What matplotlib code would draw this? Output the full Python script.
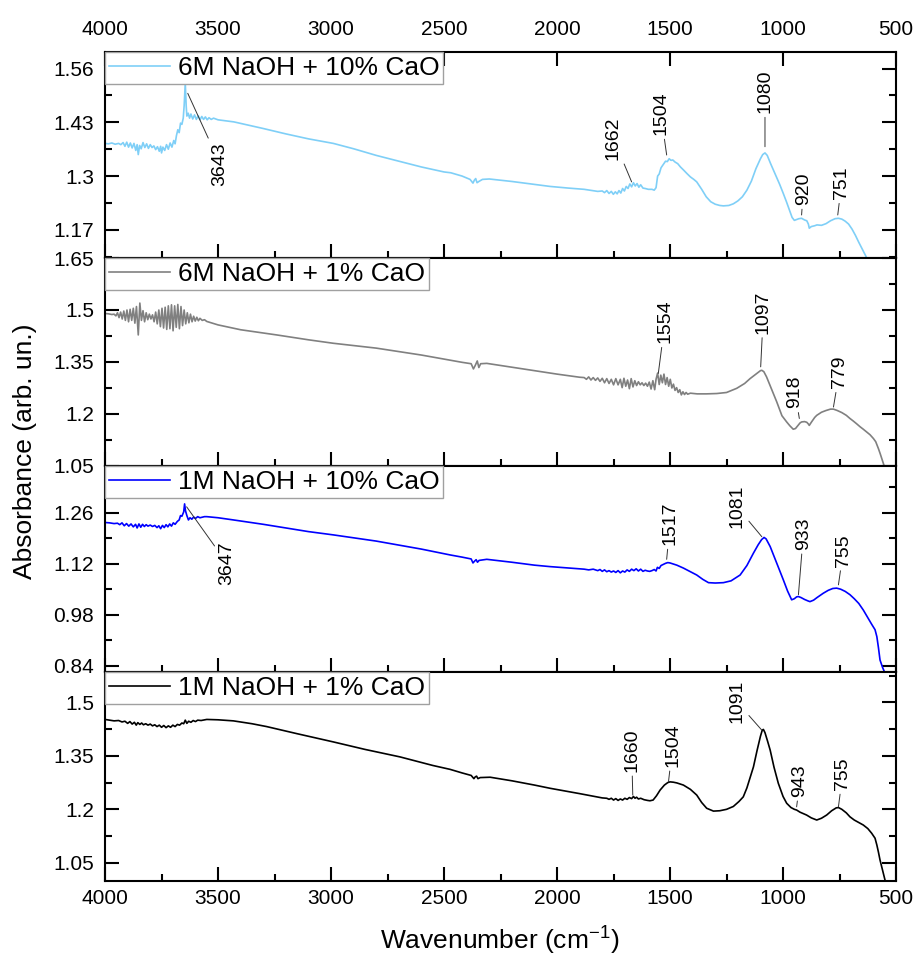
import matplotlib
matplotlib.use("Agg")
import matplotlib.pyplot as plt
from matplotlib.ticker import FixedLocator, MultipleLocator

plt.rcParams['font.family'] = ['Liberation Sans', 'DejaVu Sans']
plt.rcParams['mathtext.fontset'] = 'custom'
plt.rcParams['mathtext.rm'] = 'Liberation Sans'
plt.rcParams['mathtext.default'] = 'regular'

# 1. Data

# 6M NaOH + 10% CaO
wn_a = [4000, 3985, 3970, 3955, 3940, 3930, 3920, 3912, 3904, 3896, 3888, 3880, 3872, 3864, 3858, 3853,
        3847, 3840, 3832, 3824, 3816, 3808, 3800, 3792, 3784, 3776, 3768, 3760, 3754, 3750, 3744, 3736,
        3728, 3720, 3712, 3704, 3696, 3690, 3684, 3678, 3672, 3666, 3660, 3654, 3650, 3645, 3641, 3638,
        3632, 3626, 3620, 3612, 3604, 3596, 3588, 3580, 3572, 3564, 3556, 3548, 3540, 3530, 3520, 3500,
        3460, 3430, 3300, 3200, 3100, 2990, 2900, 2800, 2700, 2600, 2500, 2470, 2420, 2385, 2372, 2366,
        2360, 2354, 2346, 2330, 2300, 2200, 2100, 2031, 1950, 1880, 1820, 1800, 1790, 1780, 1770, 1760,
        1751, 1742, 1734, 1726, 1718, 1710, 1702, 1694, 1686, 1678, 1670, 1662, 1654, 1646, 1638, 1630,
        1620, 1610, 1596, 1580, 1570, 1562, 1555, 1548, 1540, 1530, 1520, 1512, 1504, 1496, 1488, 1478,
        1466, 1454, 1441, 1425, 1410, 1395, 1382, 1360, 1340, 1320, 1300, 1280, 1264, 1240, 1220, 1200,
        1180, 1160, 1140, 1120, 1100, 1090, 1080, 1070, 1055, 1035, 1015, 999, 985, 970, 960, 950,
        940, 930, 918, 905, 895, 888, 884, 875, 860, 850, 830, 810, 790, 770, 755, 740,
        725, 710, 695, 680, 665, 650, 635, 620]
ab_a = [1.379, 1.378, 1.380, 1.377, 1.379, 1.376, 1.381, 1.372, 1.382, 1.370, 1.380, 1.368, 1.379, 1.362, 1.376, 1.352,
        1.374, 1.366, 1.381, 1.369, 1.378, 1.367, 1.376, 1.369, 1.373, 1.364, 1.371, 1.360, 1.372, 1.356, 1.370, 1.362,
        1.376, 1.365, 1.380, 1.370, 1.386, 1.378, 1.398, 1.412, 1.405, 1.428, 1.425, 1.440, 1.470, 1.525, 1.470, 1.445,
        1.452, 1.440, 1.450, 1.438, 1.448, 1.437, 1.446, 1.436, 1.444, 1.437, 1.443, 1.436, 1.441, 1.437, 1.440, 1.436,
        1.433, 1.431, 1.415, 1.402, 1.390, 1.379, 1.366, 1.350, 1.336, 1.322, 1.310, 1.308, 1.300, 1.292, 1.283, 1.290,
        1.294, 1.284, 1.287, 1.292, 1.293, 1.287, 1.280, 1.275, 1.271, 1.268, 1.263, 1.264, 1.260, 1.265, 1.258, 1.263,
        1.256, 1.262, 1.257, 1.265, 1.259, 1.270, 1.264, 1.275, 1.270, 1.281, 1.274, 1.284, 1.276, 1.282, 1.273, 1.279,
        1.271, 1.270, 1.268, 1.268, 1.266, 1.272, 1.300, 1.305, 1.320, 1.328, 1.336, 1.335, 1.342, 1.338, 1.339, 1.334,
        1.330, 1.322, 1.315, 1.306, 1.298, 1.292, 1.286, 1.268, 1.250, 1.238, 1.232, 1.229, 1.228, 1.229, 1.233, 1.240,
        1.250, 1.266, 1.288, 1.318, 1.342, 1.352, 1.356, 1.350, 1.330, 1.305, 1.280, 1.258, 1.238, 1.215, 1.200, 1.193,
        1.195, 1.197, 1.198, 1.194, 1.192, 1.184, 1.174, 1.178, 1.180, 1.182, 1.181, 1.185, 1.192, 1.197, 1.198, 1.196,
        1.191, 1.184, 1.172, 1.157, 1.140, 1.124, 1.108, 1.090]

# 6M NaOH + 1% CaO
wn_b = [4000, 3985, 3970, 3960, 3952, 3945, 3938, 3931, 3924, 3917, 3910, 3903, 3896, 3889, 3882, 3875,
        3868, 3861, 3853, 3846, 3839, 3832, 3825, 3818, 3811, 3804, 3797, 3790, 3783, 3776, 3769, 3762,
        3755, 3748, 3741, 3734, 3727, 3720, 3713, 3706, 3699, 3692, 3685, 3678, 3671, 3664, 3657, 3650,
        3643, 3636, 3629, 3622, 3615, 3608, 3601, 3594, 3587, 3580, 3570, 3560, 3550, 3500, 3400, 3240,
        3100, 2990, 2800, 2600, 2473, 2420, 2380, 2370, 2362, 2353, 2346, 2338, 2311, 2200, 2100, 2000,
        1900, 1880, 1870, 1860, 1850, 1840, 1830, 1820, 1810, 1800, 1790, 1780, 1770, 1760, 1750, 1740,
        1730, 1720, 1712, 1704, 1696, 1688, 1680, 1672, 1664, 1656, 1648, 1640, 1632, 1624, 1616, 1608,
        1600, 1592, 1584, 1576, 1568, 1562, 1555, 1548, 1541, 1534, 1527, 1520, 1513, 1506, 1499, 1492,
        1485, 1478, 1471, 1464, 1457, 1450, 1443, 1436, 1429, 1422, 1410, 1380, 1340, 1293, 1250, 1205,
        1170, 1146, 1120, 1100, 1094, 1085, 1073, 1050, 1028, 1005, 984, 970, 955, 945, 935, 925,
        918, 905, 895, 888, 884, 875, 860, 851, 830, 810, 790, 777, 760, 740, 720, 704,
        690, 675, 659, 645, 630, 615, 600, 590, 578, 570, 560, 550]
ab_b = [1.490, 1.489, 1.487, 1.488, 1.483, 1.492, 1.478, 1.494, 1.474, 1.497, 1.470, 1.500, 1.466, 1.502, 1.470, 1.505,
        1.462, 1.510, 1.428, 1.520, 1.470, 1.498, 1.466, 1.492, 1.472, 1.488, 1.474, 1.486, 1.466, 1.494, 1.460, 1.500,
        1.452, 1.505, 1.448, 1.508, 1.444, 1.512, 1.446, 1.515, 1.440, 1.512, 1.450, 1.516, 1.446, 1.510, 1.455, 1.500,
        1.460, 1.492, 1.463, 1.488, 1.466, 1.482, 1.468, 1.479, 1.469, 1.476, 1.470, 1.472, 1.467, 1.457, 1.443, 1.428,
        1.414, 1.404, 1.390, 1.370, 1.355, 1.349, 1.345, 1.330, 1.340, 1.353, 1.334, 1.345, 1.346, 1.335, 1.325, 1.315,
        1.306, 1.305, 1.300, 1.307, 1.298, 1.305, 1.297, 1.304, 1.294, 1.303, 1.290, 1.302, 1.288, 1.300, 1.284, 1.302,
        1.284, 1.300, 1.276, 1.303, 1.280, 1.298, 1.273, 1.302, 1.278, 1.296, 1.282, 1.293, 1.284, 1.290, 1.282, 1.289,
        1.280, 1.292, 1.272, 1.296, 1.270, 1.300, 1.318, 1.285, 1.312, 1.290, 1.315, 1.285, 1.305, 1.280, 1.300, 1.275,
        1.286, 1.268, 1.276, 1.262, 1.270, 1.255, 1.264, 1.256, 1.262, 1.257, 1.260, 1.258, 1.258, 1.259, 1.262, 1.274,
        1.288, 1.302, 1.315, 1.325, 1.326, 1.322, 1.307, 1.270, 1.235, 1.195, 1.177, 1.166, 1.156, 1.158, 1.166, 1.174,
        1.177, 1.178, 1.176, 1.171, 1.167, 1.176, 1.190, 1.196, 1.205, 1.210, 1.214, 1.214, 1.210, 1.204, 1.196, 1.187,
        1.180, 1.172, 1.163, 1.156, 1.148, 1.140, 1.129, 1.120, 1.100, 1.085, 1.065, 1.045]

# 1M NaOH + 10% CaO
wn_c = [4000, 3980, 3960, 3945, 3935, 3925, 3915, 3905, 3895, 3885, 3875, 3865, 3858, 3850, 3842, 3834,
        3826, 3818, 3810, 3800, 3790, 3780, 3770, 3762, 3754, 3746, 3738, 3730, 3722, 3714, 3706, 3698,
        3690, 3680, 3672, 3666, 3660, 3652, 3648, 3644, 3638, 3631, 3624, 3616, 3608, 3600, 3590, 3580,
        3560, 3550, 3500, 3432, 3300, 3200, 3100, 2990, 2800, 2600, 2473, 2420, 2380, 2372, 2365, 2358,
        2352, 2345, 2311, 2200, 2100, 2031, 1900, 1880, 1860, 1840, 1820, 1810, 1800, 1790, 1780, 1770,
        1760, 1750, 1740, 1730, 1720, 1710, 1700, 1690, 1680, 1670, 1660, 1650, 1640, 1630, 1620, 1610,
        1600, 1590, 1580, 1570, 1562, 1556, 1548, 1540, 1530, 1520, 1510, 1500, 1490, 1470, 1441, 1410,
        1382, 1355, 1330, 1300, 1264, 1230, 1190, 1160, 1131, 1110, 1095, 1084, 1075, 1057, 1040, 1020,
        999, 980, 962, 950, 940, 932, 920, 905, 890, 881, 865, 850, 822, 800, 780, 763,
        745, 725, 704, 685, 665, 645, 625, 608, 593, 585, 578, 571, 560, 549]
ab_c = [1.233, 1.232, 1.230, 1.231, 1.227, 1.232, 1.224, 1.230, 1.223, 1.229, 1.221, 1.228, 1.218, 1.229, 1.220, 1.228,
        1.222, 1.227, 1.223, 1.226, 1.222, 1.225, 1.219, 1.224, 1.216, 1.225, 1.219, 1.227, 1.221, 1.229, 1.223, 1.232,
        1.228, 1.236, 1.240, 1.252, 1.250, 1.262, 1.284, 1.265, 1.252, 1.240, 1.246, 1.242, 1.248, 1.244, 1.249, 1.246,
        1.249, 1.249, 1.246, 1.240, 1.228, 1.218, 1.208, 1.199, 1.182, 1.160, 1.144, 1.138, 1.133, 1.122, 1.127, 1.131,
        1.124, 1.129, 1.132, 1.124, 1.116, 1.112, 1.106, 1.105, 1.103, 1.105, 1.101, 1.104, 1.099, 1.103, 1.098, 1.101,
        1.097, 1.100, 1.096, 1.101, 1.095, 1.100, 1.097, 1.103, 1.099, 1.105, 1.101, 1.106, 1.100, 1.105, 1.099, 1.102,
        1.100, 1.099, 1.101, 1.104, 1.100, 1.110, 1.107, 1.115, 1.118, 1.121, 1.123, 1.122, 1.120, 1.116, 1.108, 1.098,
        1.089, 1.077, 1.068, 1.067, 1.068, 1.073, 1.089, 1.115, 1.149, 1.172, 1.186, 1.192, 1.188, 1.167, 1.140, 1.109,
        1.076, 1.045, 1.021, 1.024, 1.029, 1.030, 1.027, 1.022, 1.018, 1.016, 1.020, 1.027, 1.039, 1.047, 1.052, 1.053,
        1.050, 1.044, 1.035, 1.024, 1.011, 0.993, 0.972, 0.954, 0.939, 0.920, 0.890, 0.856, 0.836, 0.820]

# 1M NaOH + 1% CaO
wn_d = [4000, 3980, 3960, 3940, 3925, 3912, 3900, 3890, 3880, 3870, 3862, 3855, 3846, 3838, 3830, 3820,
        3810, 3800, 3790, 3780, 3770, 3760, 3750, 3740, 3730, 3720, 3710, 3700, 3690, 3680, 3670, 3660,
        3652, 3645, 3638, 3630, 3620, 3610, 3600, 3590, 3575, 3550, 3500, 3432, 3350, 3285, 3150, 2990,
        2850, 2695, 2550, 2473, 2420, 2380, 2368, 2362, 2356, 2350, 2340, 2296, 2200, 2100, 2031, 1900,
        1800, 1780, 1770, 1760, 1750, 1740, 1730, 1720, 1710, 1700, 1690, 1680, 1670, 1662, 1655, 1648,
        1640, 1630, 1615, 1600, 1589, 1575, 1560, 1544, 1525, 1510, 1500, 1485, 1470, 1441, 1410, 1382,
        1360, 1338, 1308, 1280, 1250, 1220, 1195, 1176, 1160, 1145, 1131, 1115, 1100, 1092, 1087, 1080,
        1068, 1057, 1040, 1021, 1000, 984, 965, 950, 940, 925, 910, 896, 875, 851, 830, 807,
        785, 765, 755, 740, 720, 704, 685, 665, 645, 625, 608, 593, 585, 578, 571, 560, 549]
ab_d = [1.452, 1.450, 1.448, 1.449, 1.445, 1.447, 1.441, 1.446, 1.439, 1.444, 1.436, 1.443, 1.438, 1.442, 1.437, 1.440,
        1.436, 1.439, 1.434, 1.437, 1.432, 1.436, 1.430, 1.435, 1.429, 1.434, 1.430, 1.436, 1.432, 1.438, 1.436, 1.442,
        1.440, 1.450, 1.441, 1.447, 1.444, 1.449, 1.446, 1.450, 1.449, 1.452, 1.451, 1.448, 1.440, 1.432, 1.412, 1.389,
        1.368, 1.347, 1.323, 1.312, 1.302, 1.295, 1.286, 1.291, 1.293, 1.286, 1.289, 1.290, 1.280, 1.268, 1.259, 1.244,
        1.232, 1.231, 1.228, 1.231, 1.226, 1.230, 1.225, 1.229, 1.226, 1.231, 1.228, 1.233, 1.230, 1.236, 1.231, 1.234,
        1.229, 1.231, 1.227, 1.225, 1.224, 1.226, 1.238, 1.254, 1.268, 1.275, 1.277, 1.276, 1.274, 1.268, 1.256, 1.240,
        1.219, 1.203, 1.195, 1.196, 1.200, 1.208, 1.222, 1.235, 1.260, 1.290, 1.319, 1.365, 1.405, 1.422, 1.424, 1.415,
        1.390, 1.366, 1.318, 1.273, 1.236, 1.217, 1.205, 1.200, 1.198, 1.192, 1.188, 1.184, 1.176, 1.170, 1.175, 1.184,
        1.196, 1.204, 1.205, 1.200, 1.190, 1.179, 1.170, 1.163, 1.156, 1.146, 1.133, 1.119, 1.100, 1.080, 1.058, 1.030, 1.002]

labels = ["6M NaOH + 10% CaO", "6M NaOH + 1% CaO", "1M NaOH + 10% CaO", "1M NaOH + 1% CaO"]
colors = ["#7fcff7", "#808080", "#0000ff", "#000000"]

# y-axis ranges and ticks per panel
ylims = [(1.102, 1.600), (1.05, 1.65), (0.823, 1.388), (0.999, 1.585)]
yticks = [[1.17, 1.30, 1.43, 1.56], [1.05, 1.20, 1.35, 1.50, 1.65],
          [0.84, 0.98, 1.12, 1.26], [1.05, 1.20, 1.35, 1.50]]
yticklabels = [["1.17", "1.3", "1.43", "1.56"], ["1.05", "1.2", "1.35", "1.5", "1.65"],
               ["0.84", "0.98", "1.12", "1.26"], ["1.05", "1.2", "1.35", "1.5"]]
yminor = [[1.105, 1.235, 1.365, 1.495], [1.125, 1.275, 1.425, 1.575],
          [0.91, 1.05, 1.19, 1.33], [1.125, 1.275, 1.425, 1.575]]

# peak labels: text, peak (x, y), label anchor (x, y), label below line?
peaks_a = [("3643", (3634, 1.500), (3491, 1.382), True),
           ("1662", (1670, 1.286), (1751, 1.339), False),
           ("1504", (1515, 1.351), (1541, 1.399), False),
           ("1080", (1080, 1.371), (1080, 1.452), False),
           ("920", (918, 1.206), (910, 1.230), False),
           ("751", (758, 1.206), (741, 1.244), False)]
peaks_b = [("1554", (1552, 1.317), (1522, 1.404), False),
           ("1097", (1099, 1.336), (1087, 1.432), False),
           ("918", (928, 1.187), (947, 1.216), False),
           ("779", (777, 1.220), (751, 1.274), False)]
peaks_c = [("3647", (3639, 1.276), (3462, 1.182), True),
           ("1517", (1515, 1.132), (1500, 1.171), False),
           ("1081", (1094, 1.194), (1205, 1.217), False),
           ("933", (932, 1.035), (910, 1.158), False),
           ("755", (755, 1.062), (733, 1.112), False)]
peaks_d = [("1660", (1665, 1.240), (1670, 1.305), False),
           ("1504", (1507, 1.277), (1488, 1.319), False),
           ("1091", (1094, 1.422), (1205, 1.441), False),
           ("943", (940, 1.207), (925, 1.235), False),
           ("755", (755, 1.207), (736, 1.254), False)]

spectra = [(wn_a, ab_a, peaks_a), (wn_b, ab_b, peaks_b), (wn_c, ab_c, peaks_c), (wn_d, ab_d, peaks_d)]

# 2. Figure layout (figure fractions of each panel)
fig = plt.figure(figsize=(9.15, 9.57), dpi=100)
left, width = 0.1148, 0.8645
boxes = [(0.7304, 0.2153), (0.5131, 0.2173), (0.2978, 0.2153), (0.0794, 0.2184)]

for i, (wn, ab, peaks) in enumerate(spectra):
    ax = fig.add_axes([left, boxes[i][0], width, boxes[i][1]])
    ax.plot(wn, ab, color=colors[i], lw=1.2, label=labels[i])

    ax.set_xlim(4000, 500)
    ax.set_ylim(*ylims[i])
    ax.xaxis.set_major_locator(MultipleLocator(500))
    ax.xaxis.set_minor_locator(MultipleLocator(250))
    ax.yaxis.set_major_locator(FixedLocator(yticks[i]))
    ax.set_yticklabels(yticklabels[i])
    ax.yaxis.set_minor_locator(FixedLocator(yminor[i]))

    for s in ax.spines.values():
        s.set_linewidth(1.5)

    ax.tick_params(which='both', direction='in', left=True, right=True, width=1.5,
                   labelsize=15)
    ax.tick_params(which='major', length=10)
    ax.tick_params(which='minor', length=5)
    ax.tick_params(axis='y', pad=8)
    ax.tick_params(axis='x', pad=6, top=(i == 0), labeltop=(i == 0),
                   labelbottom=(i == 3))
    if i == 0:
        ax.tick_params(axis='x', which='major', pad=9)

    # peak labels
    for txt, pk, pos, below in peaks:
        ax.annotate(txt, xy=pk, xytext=pos, textcoords='data', rotation=90,
                    ha='center', va='top' if below else 'bottom', fontsize=14,
                    arrowprops=dict(arrowstyle='-', color='#333333', lw=0.7,
                                    shrinkA=1, shrinkB=0))

    leg = ax.legend(loc='upper left', fontsize=19, frameon=True, fancybox=False,
                    edgecolor='#a0a0a0', framealpha=1, borderaxespad=0,
                    borderpad=0.15, handlelength=2.3, handletextpad=0.3)
    leg.get_frame().set_linewidth(1.0)

fig.text(0.027, 0.528, "Absorbance (arb. un.)", rotation=90, ha='center', va='center', fontsize=19)
fig.text(0.546, 0.008, "Wavenumber (cm$^{-1}$)", ha='center', va='baseline', fontsize=19)

fig.savefig("out.png", dpi=100)
